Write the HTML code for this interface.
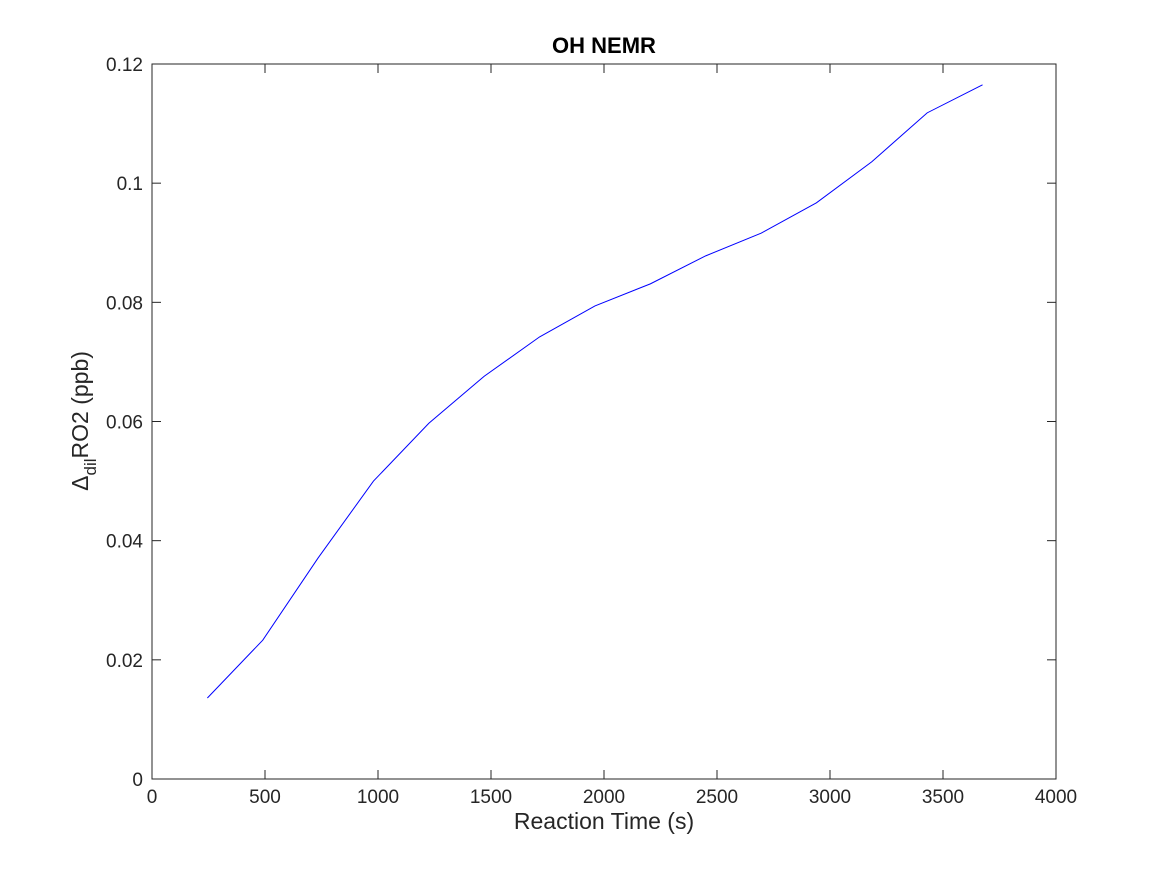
<!DOCTYPE html>
<html><head><meta charset="utf-8"><style>
html,body{margin:0;padding:0;background:#fff;}
text{font-family:"Liberation Sans",sans-serif;}
</style></head><body>
<svg id="chart" width="1167" height="875" xmlns="http://www.w3.org/2000/svg"></svg>
<script>
const xValues=[245,490,735,980,1225,1470,1715,1960,2205,2450,2695,2940,3185,3430,3675];
const yValues=[0.0136,0.0233,0.0371,0.0500,0.0597,0.0676,0.0742,0.0794,0.0831,0.0878,0.0916,0.0967,0.1036,0.1118,0.1165];
const xTicks=[0,500,1000,1500,2000,2500,3000,3500,4000];
const yTicks=[0,0.02,0.04,0.06,0.08,0.1,0.12];
const yTickLabels=["0","0.02","0.04","0.06","0.08","0.1","0.12"];

const L=152,R=1056,T=64,B=779;
const xs=v=>L+(v-0)/(4000-0)*(R-L);
const ys=v=>B-(v-0)/(0.12-0)*(B-T);
const svg=document.getElementById('chart');
const NS='http://www.w3.org/2000/svg';
function mk(tag,attrs,txt){const e=document.createElementNS(NS,tag);for(const k in attrs)e.setAttribute(k,attrs[k]);if(txt!==undefined)e.textContent=txt;svg.appendChild(e);return e;}

const frame=mk('rect',{x:L,y:T,width:R-L,height:B-T,fill:'#fff',stroke:'#262626','stroke-width':1});



xTicks.forEach(t=>{
  const x=xs(t);
  const a=mk('line',{x1:x,x2:x,y1:B,y2:B-9,stroke:'#262626'});
  
  
  const b=mk('line',{x1:x,x2:x,y1:T,y2:T+9,stroke:'#262626'});
  
  
  const l=mk('text',{x:x,y:B+24,'text-anchor':'middle','font-size':19,fill:'#262626'},String(t));
  
  
});
yTicks.forEach((t,i)=>{
  const y=ys(t);
  const a=mk('line',{x1:L,x2:L+9,y1:y,y2:y,stroke:'#262626'});
  
  
  const b=mk('line',{x1:R,x2:R-9,y1:y,y2:y,stroke:'#262626'});
  
  
  const l=mk('text',{x:L-9,y:y+7,'text-anchor':'end','font-size':19,fill:'#262626'},yTickLabels[i]);
  
  
});

const pts=xValues.map((v,i)=>xs(v)+','+ys(yValues[i])).join(' ');
const line=mk('polyline',{points:pts,fill:'none',stroke:'#0000ff','stroke-width':1});



const title=mk('text',{x:(L+R)/2,y:53,'text-anchor':'middle','font-size':22,'font-weight':'bold',fill:'#000'},'OH NEMR');



const xt=mk('text',{x:(L+R)/2,y:829,'text-anchor':'middle','font-size':23,fill:'#262626'},'Reaction Time (s)');



const yt=mk('text',{x:0,y:0,'text-anchor':'middle','font-size':23,fill:'#262626',transform:'translate(88,421) rotate(-90)'});


yt.innerHTML='<tspan>Δ</tspan><tspan font-size="17" dy="8">dil</tspan><tspan dy="-8">RO2 (ppb)</tspan>';
</script>
</body></html>
